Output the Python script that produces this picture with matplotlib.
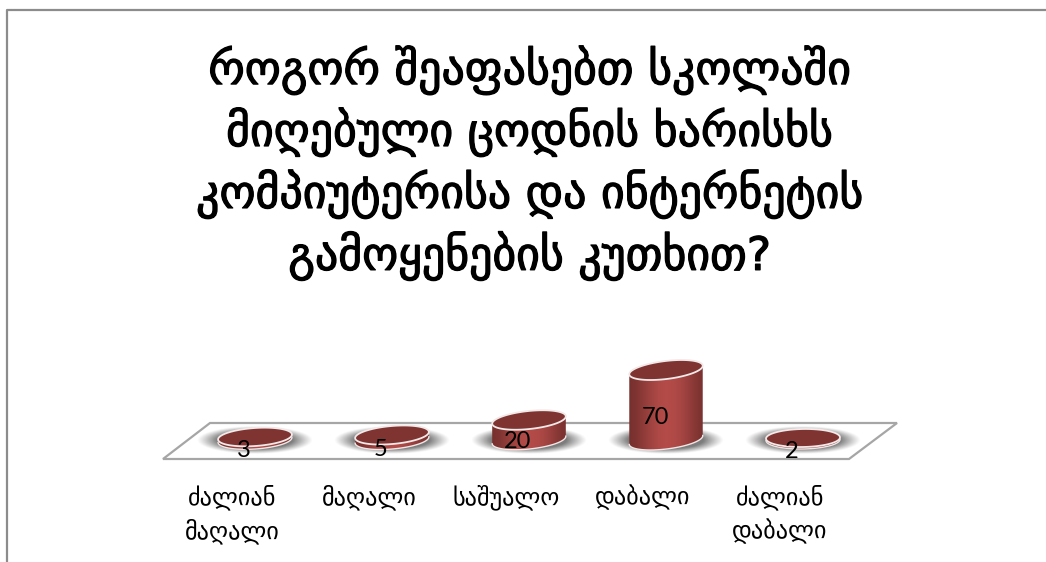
import numpy as np
import matplotlib
matplotlib.use('Agg')
import matplotlib.pyplot as plt
import matplotlib.patheffects as pe
from matplotlib.patches import Polygon

# chart data
categories = ['ძალიან\nმაღალი', 'მაღალი', 'საშუალო', 'დაბალი', 'ძალიან\nდაბალი']
values = [3, 5, 20, 70, 2]
title = ('როგორ შეაფასებთ სკოლაში\n'
         'მიღებული ცოდნის ხარისხს\n'
         'კომპიუტერისა და ინტერნეტის\n'
         'გამოყენების კუთხით?')

W, H = 1046, 562
X0, STEP = 255, 137   # pixel of the first category, pixels per category
Y0 = 440              # pixel row of value 0, one pixel per unit of value

fig = plt.figure(figsize=(W / 100, H / 100), dpi=100)
ax = fig.add_axes([0, 0, 1, 1])
ax.axis('off')


def px(x, y):
    # pixel position in the picture -> data position
    return (x - X0) / STEP, Y0 - y


def ellipse(cx, cy, a, b, tilt, t):
    # cx in category units, cy in value units, a and b in pixels
    th = np.radians(tilt)
    dx = a * np.cos(t) * np.cos(th) - b * np.sin(t) * np.sin(th)
    dy = a * np.cos(t) * np.sin(th) + b * np.sin(t) * np.cos(th)
    return np.column_stack([cx + dx / STEP, cy + dy])


# frame of the slide
ax.plot(*zip(px(7, H), px(7, 10), px(W, 10)), color='#8c8c8c', lw=1.6, zorder=1)

# floor
floor = [px(163, 459), px(210, 423), px(897, 423), px(849, 459)]
ax.add_patch(Polygon(floor, closed=True, fc='white', ec='#a6a6a6', lw=1.6, zorder=1))

# soft shadow below each cylinder
grid_x, grid_y = np.meshgrid(np.linspace(-1, 1, 200), np.linspace(-1, 1, 80))
r = np.sqrt(grid_x ** 2 + grid_y ** 2)
shadow = np.zeros(r.shape + (4,))
shadow[..., :3] = 0.4
shadow[..., 3] = np.clip((1 - r) / 0.35, 0, 1) ** 1.1 * 0.85

shade = np.array([0.0, 0.15, 0.42, 0.68, 0.9, 1.0, 0.95, 0.8, 0.55, 0.25, 0.05])
dark = np.array([0x76, 0x30, 0x2e]) / 255
light = np.array([0xb4, 0x4c, 0x49]) / 255
body_img = (dark + (light - dark) * np.interp(np.linspace(0, 1, 200),
                                              np.linspace(0, 1, len(shade)), shade)[:, None])[None, :, :]

a, b = 37, 9
tilts = [4, 5, 6, 7, 1]
t_low = np.linspace(np.pi, 2 * np.pi, 60)
t_up = np.linspace(0, np.pi, 60)
t_all = np.linspace(0, 2 * np.pi, 120)

for i, v in enumerate(values):
    tilt = tilts[i]
    ax.imshow(shadow, extent=[i - 58 / STEP, i + 58 / STEP, -14, 14],
              aspect='auto', zorder=2, interpolation='bilinear')
    base = ellipse(i, 0, a, b, tilt, t_low)
    top_half = ellipse(i, v, a, b, tilt, t_up)
    outline = np.vstack([base, top_half])
    body = Polygon(outline, closed=True, fc='none', ec='none')
    ax.add_patch(body)
    im = ax.imshow(body_img, extent=[i - a / STEP, i + a / STEP, -b - 4, v + b + 4],
                   aspect='auto', zorder=3)
    im.set_clip_path(body)
    ax.plot(base[:, 0], base[:, 1], color='#efe6e6', lw=1.0, zorder=3)
    ax.add_patch(Polygon(ellipse(i, v, a, b, tilt, t_all), closed=True,
                         fc='#7f3432', ec='#f2e9e9', lw=1.3, zorder=4))
    ax.text(i - 11 / STEP, v / 2 - 12, str(v), ha='center', va='center',
            fontsize=17, family='Lato', color='black', zorder=5)
    ax.text(i - 23 / STEP, -44, categories[i], ha='center', va='top', fontsize=17.5,
            family='DejaVu Sans', color='black', linespacing=1.42, zorder=5)

ax.set_xlim(-X0 / STEP, (W - X0) / STEP)
ax.set_ylim(Y0 - H, Y0)

tx, ty = px(530, 163)
ax.text(tx, ty, title, ha='center', va='center', fontsize=33,
        family='DejaVu Sans', color='black', linespacing=1.33,
        path_effects=[pe.withStroke(linewidth=0.9, foreground='black')])

fig.savefig('out.png', dpi=100)
